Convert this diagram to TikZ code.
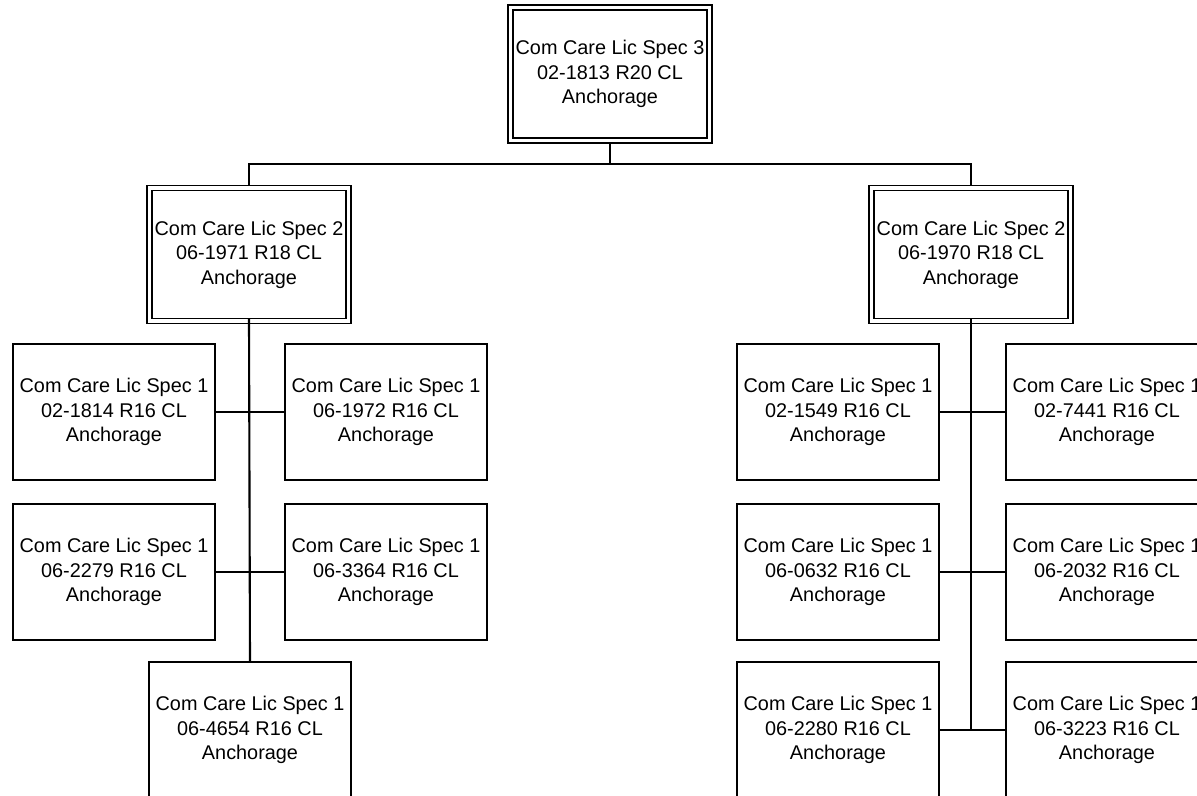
\documentclass[tikz,border=0pt]{standalone}
\usepackage{fontspec}
\setmainfont{Liberation Sans}
\usepackage{tikz}
\usetikzlibrary{positioning, calc}

\begin{document}
\begin{tikzpicture}[x=0.02cm, y=-0.02cm,
    headbox/.style={draw, line width=0.7pt, minimum width=3.88cm, minimum height=2.56cm,
        inner sep=0pt, align=center, font=\fontsize{11.3}{13.9}\selectfont},
    staffbox/.style={draw, line width=0.8pt, minimum width=4.04cm, minimum height=2.72cm,
        inner sep=0pt, align=center, font=\fontsize{11.3}{13.9}\selectfont},
    link/.style={line width=0.8pt},
    trunk/.style={line width=1.2pt}]

    % Frame of the picture
    \useasboundingbox (0,0) rectangle (1197,795);
    \clip (0,0) rectangle (1197,795);

    % Top of the chart
    \node[headbox] (spec3) at (610,74) {Com Care Lic Spec 3\\02-1813 R20 CL\\Anchorage};

    % Second level
    \node[headbox] (spec2a) at (249,254.5) {Com Care Lic Spec 2\\06-1971 R18 CL\\Anchorage};
    \node[headbox] (spec2b) at (971,254.5) {Com Care Lic Spec 2\\06-1970 R18 CL\\Anchorage};

    % Outer line of the double frames
    \foreach \n in {spec3, spec2a, spec2b}
        \draw[line width=0.7pt] ($(\n.south west)+(-4.5,4.5)$) rectangle ($(\n.north east)+(4.5,-4.5)$);

    % Staff under the left one
    \node[staffbox] (spec1a) at (114,412) {Com Care Lic Spec 1\\02-1814 R16 CL\\Anchorage};
    \node[staffbox] (spec1b) at (386,412) {Com Care Lic Spec 1\\06-1972 R16 CL\\Anchorage};
    \node[staffbox] (spec1c) at (114,572) {Com Care Lic Spec 1\\06-2279 R16 CL\\Anchorage};
    \node[staffbox] (spec1d) at (386,572) {Com Care Lic Spec 1\\06-3364 R16 CL\\Anchorage};
    \node[staffbox] (spec1e) at (250,730) {Com Care Lic Spec 1\\06-4654 R16 CL\\Anchorage};

    % Staff under the right one
    \node[staffbox] (spec1f) at (838,412) {Com Care Lic Spec 1\\02-1549 R16 CL\\Anchorage};
    \node[staffbox] (spec1g) at (1107,412) {Com Care Lic Spec 1\\02-7441 R16 CL\\Anchorage};
    \node[staffbox] (spec1h) at (838,572) {Com Care Lic Spec 1\\06-0632 R16 CL\\Anchorage};
    \node[staffbox] (spec1i) at (1107,572) {Com Care Lic Spec 1\\06-2032 R16 CL\\Anchorage};
    \node[staffbox] (spec1k) at (838,730) {Com Care Lic Spec 1\\06-2280 R16 CL\\Anchorage};
    \node[staffbox] (spec1l) at (1107,730) {Com Care Lic Spec 1\\06-3223 R16 CL\\Anchorage};

    % Lines between the levels
    \coordinate (bus) at (610,164);
    \coordinate (rend) at (971,730);
    \draw[link] ($(spec3.south)+(0,4.5)$) -- (bus);
    \draw[link] ($(spec2a.north)+(0,-4.5)$) |- (bus) -| ($(spec2b.north)+(0,-4.5)$);

    \draw[trunk] (spec2a.south) -- (spec1e.north);
    \draw[trunk] (spec2b.south) -- (rend);

    \draw[link] (spec1a.east) -- (spec1b.west);
    \draw[link] (spec1c.east) -- (spec1d.west);
    \draw[link] (spec1f.east) -- (spec1g.west);
    \draw[link] (spec1h.east) -- (spec1i.west);
    \draw[link] (spec1k.east) -- (spec1l.west);

\end{tikzpicture}
\end{document}
